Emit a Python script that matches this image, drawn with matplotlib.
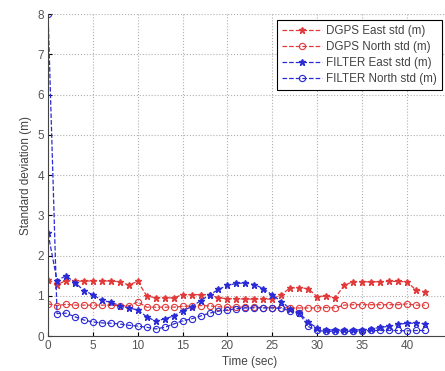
import matplotlib
matplotlib.use("Agg")
import matplotlib.pyplot as plt

plt.rcParams["font.family"] = ["Liberation Sans", "DejaVu Sans"]

# time axis (s)
time_s = list(range(0, 43))

dgps_east = [1.40, 1.28, 1.38, 1.36, 1.37, 1.37, 1.37, 1.37, 1.35, 1.27, 1.36,
             1.00, 0.95, 0.95, 0.95, 1.03, 1.03, 1.03, 1.03, 0.95, 0.93,
             0.93, 0.92, 0.92, 0.92, 0.92, 1.03, 1.20, 1.20, 1.18, 0.98,
             1.00, 0.95, 1.26, 1.35, 1.35, 1.35, 1.35, 1.36, 1.36, 1.35,
             1.15, 1.10]
dgps_north = [0.80, 0.76, 0.79, 0.77, 0.77, 0.77, 0.77, 0.77, 0.76, 0.75, 0.85,
              0.72, 0.72, 0.72, 0.72, 0.74, 0.75, 0.76, 0.75, 0.73, 0.72,
              0.72, 0.72, 0.72, 0.71, 0.71, 0.71, 0.70, 0.70, 0.70, 0.70,
              0.71, 0.70, 0.77, 0.78, 0.78, 0.78, 0.78, 0.78, 0.78, 0.80,
              0.77, 0.77]
filter_east = [2.55, 1.38, 1.50, 1.33, 1.13, 1.03, 0.89, 0.84, 0.76, 0.70, 0.65,
               0.48, 0.37, 0.43, 0.50, 0.63, 0.73, 0.88, 1.02, 1.16, 1.26,
               1.31, 1.32, 1.28, 1.18, 1.02, 0.86, 0.68, 0.58, 0.35, 0.20,
               0.16, 0.15, 0.15, 0.15, 0.16, 0.17, 0.22, 0.24, 0.29, 0.32,
               0.32, 0.31]
filter_north = [8.00, 0.56, 0.57, 0.48, 0.40, 0.35, 0.33, 0.32, 0.30, 0.27, 0.25,
                0.22, 0.18, 0.22, 0.30, 0.38, 0.43, 0.50, 0.57, 0.62, 0.65,
                0.68, 0.70, 0.70, 0.70, 0.70, 0.69, 0.63, 0.57, 0.24, 0.14,
                0.12, 0.12, 0.12, 0.12, 0.13, 0.14, 0.14, 0.14, 0.14, 0.13,
                0.14, 0.14]

labels = ["DGPS East std (m)", "DGPS North std (m)",
          "FILTER East std (m)", "FILTER North std (m)"]

RED = "#e23a3a"
BLUE = "#2a2ad6"

fig = plt.figure(figsize=(4.45, 3.71), dpi=100)
ax = fig.add_axes([0.108, 0.094, 0.907, 0.868])

ax.plot(time_s, dgps_east, "--", color=RED, marker="*", ms=5, lw=0.9, label=labels[0])
ax.plot(time_s, dgps_north, "--", color=RED, marker="o", ms=4.5, mfc="none", mew=0.8, lw=0.9, label=labels[1])
ax.plot(time_s, filter_east, "--", color=BLUE, marker="*", ms=5, lw=0.9, label=labels[2])
ax.plot(time_s, filter_north, "--", color=BLUE, marker="o", ms=4.5, mfc="none", mew=0.8, lw=0.9, label=labels[3])

ax.set_xlim(0, 45)
ax.set_ylim(0, 8)
ax.set_xticks(range(0, 46, 5))
ax.set_yticks(range(0, 9))
ax.grid(True, ls=":", color="#b0b0b0", lw=0.8)
ax.tick_params(direction="in", labelsize=8.5, labelcolor="#555555", length=3, pad=3)
ax.spines["top"].set_visible(False)
ax.spines["right"].set_visible(False)
ax.spines["left"].set_color("#444444")
ax.spines["bottom"].set_color("#444444")

ax.set_xlabel("Time (sec)", fontsize=8.5, color="#444444", labelpad=3)
ax.set_ylabel("Standard deviation (m)", fontsize=8.5, color="#444444", labelpad=4)

leg = ax.legend(loc="upper left", bbox_to_anchor=(0.567, 0.981), borderaxespad=0,
                fontsize=8.4, frameon=True, fancybox=False, framealpha=1,
                edgecolor="black", handlelength=3.4, borderpad=0.45,
                labelspacing=0.33, handletextpad=0.33)
leg.get_frame().set_linewidth(0.8)
for t in leg.get_texts():
    t.set_color("#444444")

fig.savefig("out.png", dpi=100)
